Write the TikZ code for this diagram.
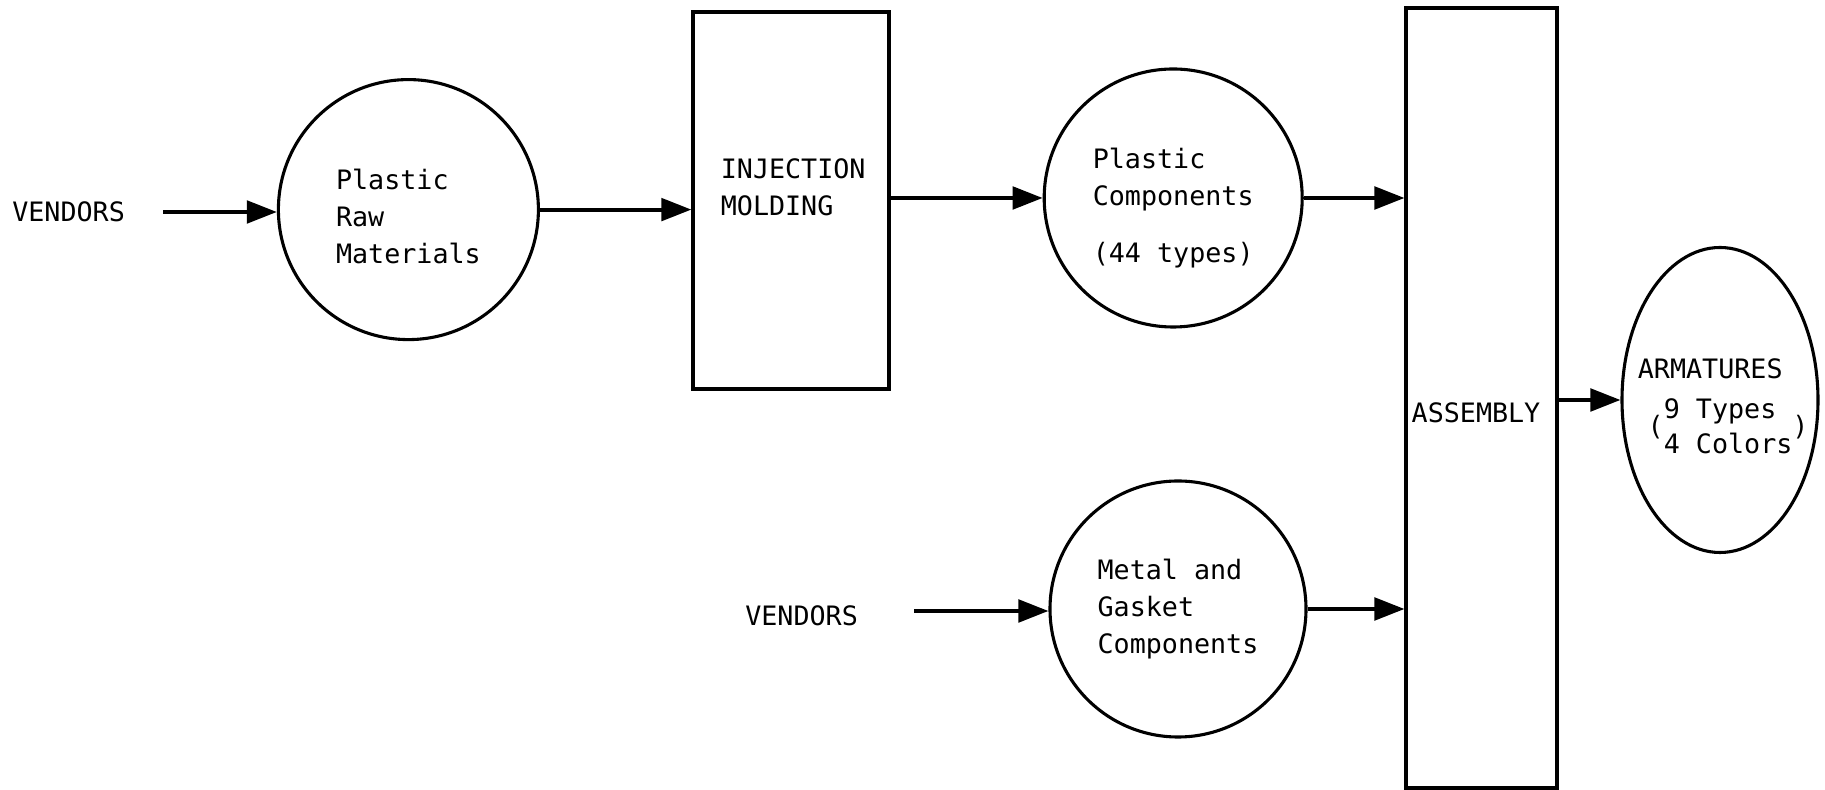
\documentclass[tikz,border=0pt]{standalone}
\usepackage{fontspec}
\newfontfamily\tw{DejaVu Sans Mono}
\usetikzlibrary{arrows.meta, shapes.geometric}
\tikzset{flow/.style={line width=2.8pt, -{Triangle[length=7.5mm, width=5.6mm]}}}
\tikzset{txt/.style={font=\tw\fontsize{19}{26.3}\selectfont, align=left, inner sep=0pt}}
\tikzset{proc/.style={draw, line width=2.3pt, rectangle, inner sep=0pt}}
\tikzset{stock/.style={draw, line width=2.2pt, circle, inner sep=0pt}}

\begin{document}
\begin{tikzpicture}
\useasboundingbox (0,0) rectangle (45.625,19.75);
\node[txt, anchor=west] (vtop) at (0.3,14.45) {VENDORS};
\node[stock, minimum size=6.5cm] (raw) at (10.21,14.51) {};
\node[txt] (rawtxt) at (10.21,14.335) {Plastic\\Raw\\Materials};
\node[proc, minimum width=4.9cm, minimum height=9.425cm] (mold) at (19.775,14.74) {};
\node[txt] (moldtxt) at (19.83,15.07) {INJECTION\\MOLDING};
\node[stock, minimum size=6.45cm] (comp) at (29.33,14.8) {};
\node[txt] (comptxt) at (29.33,14.54) {Plastic\\Components\\[0.5cm](44 types)};
\node[txt, anchor=west] (vbot) at (18.625,4.35) {VENDORS};
\node[stock, minimum size=6.4cm] (metal) at (29.45,4.525) {};
\node[txt] (metaltxt) at (29.45,4.525) {Metal and\\Gasket\\Components};
\node[proc, minimum width=3.775cm, minimum height=19.5cm] (asm) at (37.04,9.8) {};
\node[txt] (asmtxt) at (36.9,9.425) {ASSEMBLY};
\node[stock, ellipse, minimum width=4.9cm, minimum height=7.625cm] (arm) at (43.0,9.75) {};
\node[txt] (armtxt) at (43.08,9.47) {ARMATURES\\[10pt]\hspace*{7pt}(\renewcommand\arraystretch{0.95}\begin{tabular}{@{}l@{}}9 Types\\4 Colors\end{tabular})};
% flows
\coordinate (vin1) at (4.08,14.45);
\coordinate (vin2) at (22.85,4.475);
\draw[flow] (vin1) -- (vin1 -| raw.west);
\draw[flow] (raw.east) -- (raw.east -| mold.west);
\draw[flow] (mold.east |- comp.west) -- (comp.west);
\draw[flow] (comp.east) -- (comp.east -| asm.west);
\draw[flow] (vin2) -- (vin2 -| metal.west);
\draw[flow] (metal.east) -- (metal.east -| asm.west);
\draw[flow] (asm.east |- arm.west) -- (arm.west);
\end{tikzpicture}
\end{document}
